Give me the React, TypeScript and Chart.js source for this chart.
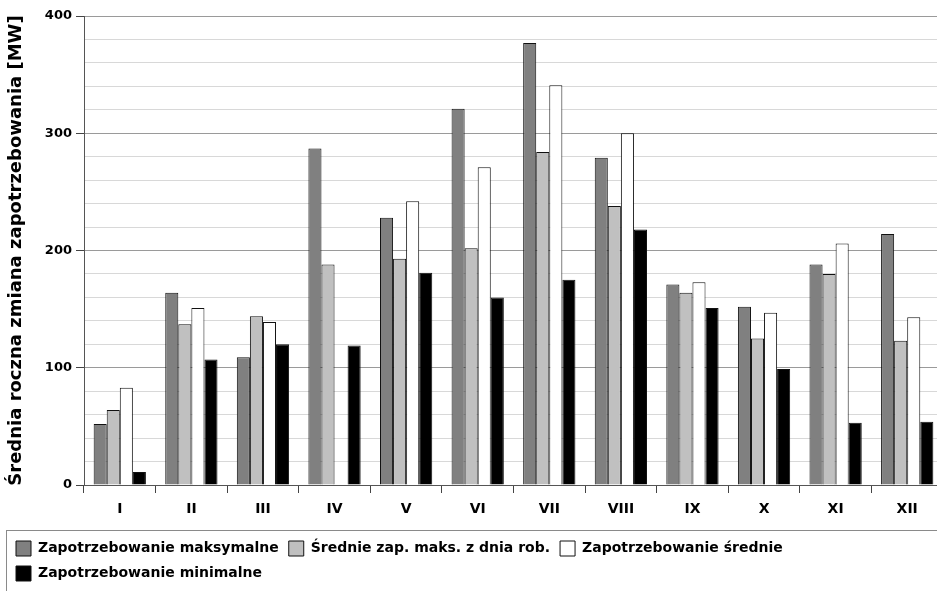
import { useEffect, useRef } from "react";
import { Chart, registerables } from "chart.js";

Chart.register(...registerables);

const categories = ["I", "II", "III", "IV", "V", "VI", "VII", "VIII", "IX", "X", "XI", "XII"];
const seriesLabels = [
  "Zapotrzebowanie maksymalne",
  "Średnie zap. maks. z dnia rob.",
  "Zapotrzebowanie średnie",
  "Zapotrzebowanie minimalne",
];
const maxDemand = [52, 164, 109, 287, 228, 321, 377, 279, 171, 152, 188, 214];
const workdayMaxAvg = [64, 137, 144, 188, 193, 202, 284, 238, 164, 125, 180, 123];
const avgDemand = [83, 151, 139, null, 242, 271, 341, 300, 173, 147, 206, 143];
const minDemand = [11, 107, 120, 119, 181, 160, 175, 218, 151, 99, 53, 54];
const seriesColors = ["#808080", "#c0c0c0", "#ffffff", "#000000"];
const yTitle = "Średnia roczna zmiana zapotrzebowania [MW]";
const yMin = 0;
const yMax = 400;
const yStep = 20;
const yLabelStep = 100;

const FONT = "DejaVu Sans";

const legendBorder = {
  id: "legendBorder",
  afterDraw(chart: any) {
    const lg = chart.legend;
    if (!lg) return;
    const ctx = chart.ctx;
    ctx.save();
    ctx.strokeStyle = "#8a8a8a";
    ctx.lineWidth = 1;
    ctx.strokeRect(Math.round(lg.left) + 0.5, Math.round(lg.top) - 0.5, lg.width + 20, lg.height + 20);
    ctx.restore();
  },
};

export default function App() {
  const ref = useRef<HTMLCanvasElement | null>(null);

  useEffect(() => {
    document.body.style.margin = "0";
    const canvas = ref.current;
    if (!canvas) return;
    const seriesData = [maxDemand, workdayMaxAvg, avgDemand, minDemand];
    const chart = new Chart(canvas, {
      type: "bar",
      data: {
        labels: categories,
        datasets: seriesData.map((d, i) => ({
          label: seriesLabels[i],
          data: d as any,
          backgroundColor: seriesColors[i],
          borderColor: "#111111",
          borderWidth: 1,
          barPercentage: 1,
          categoryPercentage: 0.73,
        })),
      },
      options: {
        responsive: false,
        animation: false,
        devicePixelRatio: 1,
        layout: { padding: { left: 6, right: 7, top: 16, bottom: 0 } },
        plugins: {
          tooltip: { enabled: false },
          legend: {
            position: "bottom",
            align: "start",
            labels: {
              boxWidth: 15,
              boxHeight: 15,
              padding: 10,
              color: "#000",
              font: { family: FONT, size: 14, weight: "bold" },
            },
          },
        },
        scales: {
          x: {
            offset: true,
            grid: {
              offset: true,
              drawOnChartArea: false,
              drawTicks: true,
              tickLength: 8,
              tickColor: "#444",
            },
            border: { color: "#555", width: 1 },
            ticks: { color: "#000", padding: 8, font: { family: FONT, size: 14, weight: "bold" } },
            afterFit: (s: any) => {
              s.height = 46;
            },
          },
          y: {
            min: yMin,
            max: yMax,
            ticks: {
              stepSize: yStep,
              autoSkip: false,
              padding: 4,
              color: "#000",
              font: { family: FONT, size: 13, weight: "bold" },
              callback: (v: any) => (Number(v) % yLabelStep === 0 ? String(v) : ""),
            },
            grid: {
              tickLength: 8,
              color: (c: any) => (c.tick && c.tick.value % yLabelStep === 0 ? "#9a9a9a" : "#d8d8d8"),
              tickColor: (c: any) => (c.tick && c.tick.value % yLabelStep === 0 ? "#444" : "rgba(0,0,0,0)"),
            },
            border: { color: "#555", width: 1 },
            title: {
              display: true,
              text: yTitle,
              color: "#000",
              font: { family: FONT, size: 18, weight: "bold" },
              padding: { top: 0, bottom: 4 },
            },
            afterFit: (s: any) => {
              s.width = 78;
            },
          },
        },
      },
      plugins: [legendBorder],
    });
    return () => chart.destroy();
  }, []);

  return (
    <div style={{ width: 937, height: 591, overflow: "hidden", position: "relative" }}>
      <canvas ref={ref} width={950} height={591} style={{ display: "block", width: 950, height: 591 }} />
    </div>
  );
}
